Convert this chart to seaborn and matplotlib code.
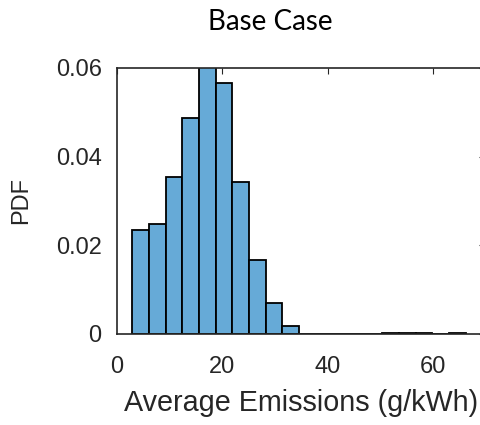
import numpy as np
import pandas as pd
import matplotlib
matplotlib.use("Agg")
import matplotlib.pyplot as plt
import seaborn as sns

# Histogram of average emissions (20 equal-width bins), normalised as a PDF
bin_start = 2.9
bin_width = 3.165
pdf = [0.0235, 0.0248, 0.0355, 0.0487, 0.0615, 0.0566, 0.0342, 0.0167, 0.0069, 0.0018,
       0.0, 0.0, 0.0, 0.0, 0.0, 0.0003, 0.0003, 0.0003, 0.0, 0.0003]
x_ticks = [0, 20, 40, 60]
y_ticks = [0, 0.02, 0.04, 0.06]
y_tick_labels = ["0", "0.02", "0.04", "0.06"]

n_bins = len(pdf)
centers = bin_start + bin_width * (np.arange(n_bins) + 0.5)
df = pd.DataFrame({"emissions": centers, "pdf": pdf})

sns.set_theme(style="white")
plt.rcParams["font.family"] = ["Liberation Sans", "DejaVu Sans"]

fig = plt.figure(figsize=(4.8, 4.25), dpi=100)
# the plot box runs slightly past the right edge of the canvas
ax = fig.add_axes([117 / 480, 91 / 425, 368 / 480, 266 / 425])

face = "#66AAD7"
sns.histplot(data=df, x="emissions", weights="pdf", binwidth=bin_width,
             binrange=(bin_start, bin_start + n_bins * bin_width), ax=ax, color=face,
             alpha=1.0, edgecolor="black", linewidth=1.3, stat="count")

ax.set_xlim(0, 69.9)
ax.set_ylim(0, 0.06)
ax.set_xticks(x_ticks)
ax.set_xticklabels([str(v) for v in x_ticks])
ax.set_yticks(y_ticks)
ax.set_yticklabels(y_tick_labels)

spine_col = "#262626"
for s in ax.spines.values():
    s.set_visible(True)
    s.set_color(spine_col)
    s.set_linewidth(1.2)
ax.tick_params(direction="in", length=4, width=0.8, color=spine_col,
               top=True, right=True, labelsize=17, labelcolor=spine_col)
ax.tick_params(axis="y", pad=11)
ax.tick_params(axis="x", pad=16)
ax.set_ylabel("PDF", fontsize=17, color=spine_col, labelpad=17)
ax.set_xlabel("Average Emissions (g/kWh)", fontsize=20.7, color=spine_col, labelpad=8)

fig.text(270 / 480, 1 - 22 / 425, "Base Case", ha="center", va="center",
         fontsize=20, family=["Lato", "DejaVu Sans"], color="black")

fig.savefig("out.png", dpi=100)
